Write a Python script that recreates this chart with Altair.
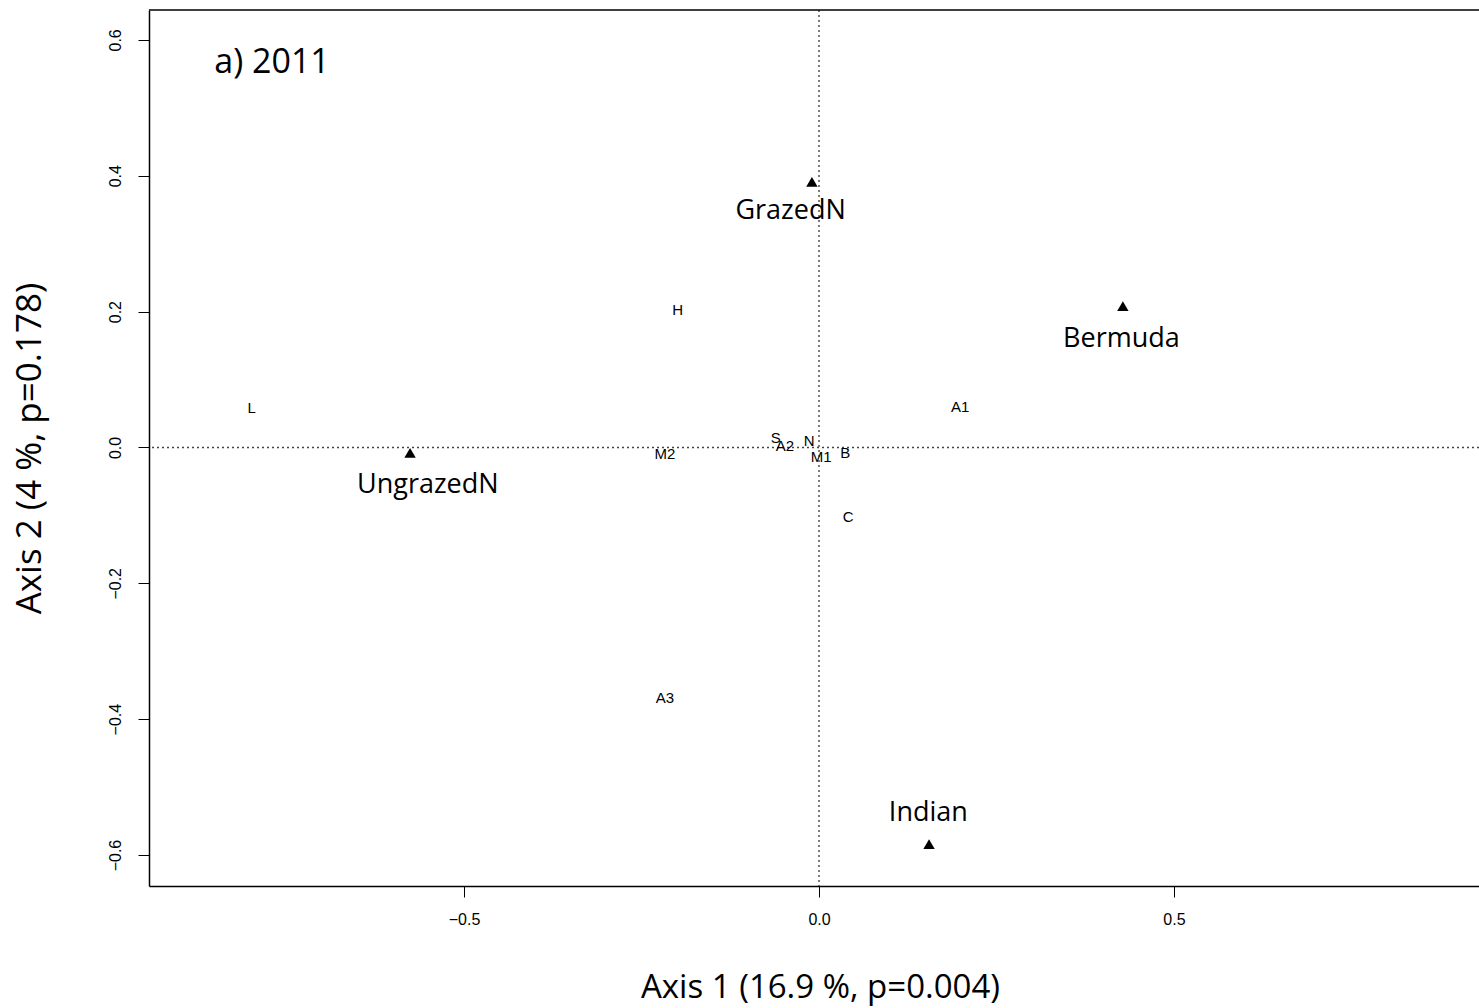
import altair as alt
import pandas as pd

# Site / treatment centroids (triangles) and where their names sit
groups = ["GrazedN", "Bermuda", "UngrazedN", "Indian"]
group_x = [-0.010, 0.428, -0.576, 0.155]
group_y = [0.391, 0.208, -0.008, -0.584]
group_label_x = [-0.040, 0.426, -0.551, 0.154]
group_label_y = [0.348, 0.160, -0.056, -0.538]

# Species scores
species = ["L", "H", "A1", "M2", "S", "A2", "N", "M1", "B", "C", "A3"]
species_x = [-0.799, -0.199, 0.199, -0.217, -0.061, -0.048, -0.014, 0.003, 0.037, 0.041, -0.217]
species_y = [0.058, 0.203, 0.060, -0.010, 0.014, 0.002, 0.010, -0.014, -0.008, -0.102, -0.369]

x_ticks = [-0.5, 0.0, 0.5]
y_ticks = [-0.6, -0.4, -0.2, 0.0, 0.2, 0.4, 0.6]

W, H = 1330, 876
x_dom = [-0.9437, 0.9296]
y_dom = [-0.6456, 0.644]

grp = pd.DataFrame({"name": groups, "x": group_x, "y": group_y,
                    "lx": group_label_x, "ly": group_label_y})
spp = pd.DataFrame({"name": species, "x": species_x, "y": species_y})

xs = alt.Scale(domain=x_dom, nice=False, zero=False)
ys = alt.Scale(domain=y_dom, nice=False, zero=False)

x_axis = alt.Axis(values=x_ticks, format=".1f", grid=False, tickSize=11,
                  tickColor="black", domainColor="black", domainWidth=1.5,
                  labelFont="Liberation Sans", labelFontSize=16, labelColor="black",
                  labelPadding=14, title="Axis 1 (16.9 %, p=0.004)",
                  titleFont="Open Sans", titleFontSize=33, titleFontWeight="normal",
                  titleColor="black", titleX=671, titleY=101, titleBaseline="middle",
                  titleAlign="center")
y_axis = alt.Axis(values=y_ticks, format=".1f", grid=False, tickSize=11,
                  tickColor="black", domainColor="black", domainWidth=1.5,
                  labelFont="Liberation Sans", labelFontSize=16, labelColor="black",
                  labelAngle=-90, labelAlign="center", labelBaseline="bottom",
                  labelPadding=15, title="Axis 2 (4 %, p=0.178)",
                  titleFont="Open Sans", titleFontSize=35, titleFontWeight="normal",
                  titleColor="black", titleAngle=-90, titleX=-120, titleY=438,
                  titleAlign="center", titleBaseline="middle")

base = alt.Chart(grp)

points = base.mark_point(shape="triangle-up", filled=True, color="black",
                         size=130, opacity=1).encode(
    x=alt.X("x:Q", scale=xs, axis=x_axis),
    y=alt.Y("y:Q", scale=ys, axis=y_axis),
)

group_text = base.mark_text(font="Open Sans", fontSize=27, color="black",
                            align="center", baseline="middle").encode(
    x=alt.X("lx:Q", scale=xs), y=alt.Y("ly:Q", scale=ys), text="name:N")

species_text = alt.Chart(spp).mark_text(font="Liberation Sans", fontSize=15,
                                        color="black", align="center",
                                        baseline="middle").encode(
    x=alt.X("x:Q", scale=xs), y=alt.Y("y:Q", scale=ys), text="name:N")

zero_df = pd.DataFrame({"v": [0.0]})
vline = alt.Chart(zero_df).mark_rule(color="#444", strokeDash=[2, 3],
                                     strokeWidth=1.4).encode(x=alt.X("v:Q", scale=xs))
hline = alt.Chart(zero_df).mark_rule(color="#444", strokeDash=[2, 3],
                                     strokeWidth=1.4).encode(y=alt.Y("v:Q", scale=ys))

top_rule = alt.Chart(zero_df).mark_rule(color="black", strokeWidth=1.5).encode(
    x=alt.value(0), x2=alt.value(W), y=alt.value(0))

panel_title = alt.Chart(pd.DataFrame({"t": ["a) 2011"]})).mark_text(
    font="Open Sans", fontSize=34, color="black", align="center", baseline="middle"
).encode(x=alt.value(272 - 149), y=alt.value(63 - 10), text="t:N")

chart = alt.layer(vline, hline, top_rule, points, group_text, species_text,
                  panel_title).properties(
    width=W, height=H,
    autosize=alt.AutoSizeParams(type="none"),
    padding={"left": 149, "top": 10, "right": 0, "bottom": 122},
    background="white",
).configure_view(stroke=None)

chart.save("out.html", embed_options={"renderer": "svg", "actions": False})
